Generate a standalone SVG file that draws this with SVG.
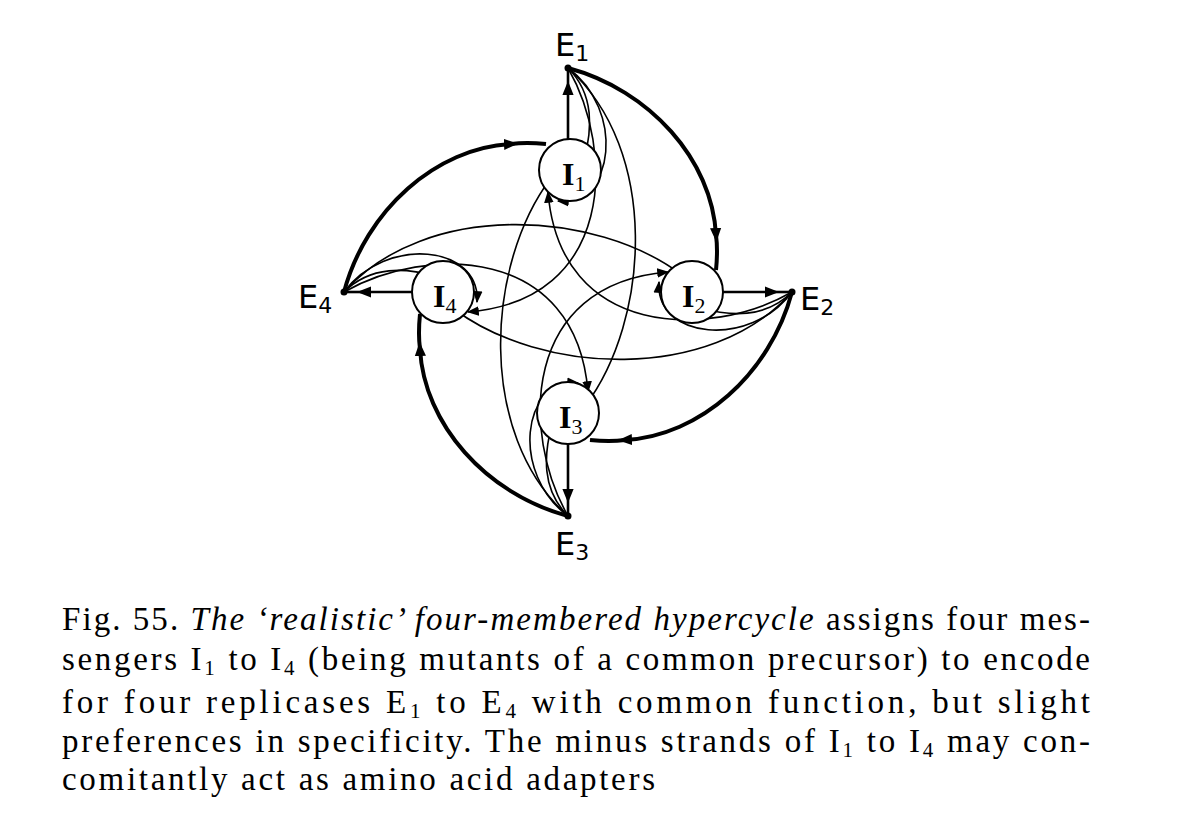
<svg xmlns="http://www.w3.org/2000/svg" width="1189" height="829" viewBox="0 0 1189 829">
<style>
.thin{fill:none;stroke:#000;stroke-width:1.6}
.thick{fill:none;stroke:#000;stroke-width:4}
.med{fill:none;stroke:#000;stroke-width:2.6}
.node{fill:#fff;stroke:#000;stroke-width:2}
.lab{font-family:"DejaVu Sans",sans-serif;font-size:32px}
.ilab{font-family:"Liberation Serif",serif;font-size:32px;font-weight:bold}
.cap{font-family:"Liberation Serif",serif;font-size:33px}
</style>
<defs>
<marker id="a" viewBox="0 0 10 10" refX="9" refY="5" markerWidth="12" markerHeight="12" markerUnits="userSpaceOnUse" orient="auto"><path d="M0,1 L10,5 L0,9 z"/></marker>
<marker id="ab" viewBox="0 0 10 10" refX="5" refY="5" markerWidth="14" markerHeight="14" markerUnits="userSpaceOnUse" orient="auto"><path d="M0,1 L10,5 L0,9 z"/></marker>
<g id="arms">
<path class="thick" d="M568,68 C650,90 712,160 716,235" marker-end="url(#ab)"/>
<path class="thick" d="M716,235 C718,250 717,260 716,270"/>
<path class="med" d="M568,140 L568,88" marker-end="url(#ab)"/>
<path class="med" d="M568,88 L568,68"/>
<path class="thin" d="M568,68 C595,95 592,130 584,160" marker-end="url(#a)"/>
<path class="thin" d="M568,68 C625,110 615,205 558,201" marker-end="url(#a)"/>
<path class="thin" d="M568,68 C660,150 650,320 585,406" marker-end="url(#a)"/>
<path class="thin" d="M568,68 C615,150 615,300 468,312" marker-end="url(#a)"/>
<circle cx="568" cy="68" r="3.5"/>
</g>
</defs>
<g id="connectors">
<use href="#arms"/>
<use href="#arms" transform="rotate(90 568 292)"/>
<use href="#arms" transform="rotate(180 568 292)"/>
<use href="#arms" transform="rotate(270 568 292)"/>
</g>
<g id="I1"><circle class="node" cx="570" cy="170" r="31"/><text class="ilab" x="562" y="185">I<tspan font-size="22" font-weight="normal" dy="6">1</tspan></text></g>
<g id="I2"><circle class="node" cx="692" cy="292" r="31"/><text class="ilab" x="682" y="307">I<tspan font-size="22" font-weight="normal" dy="6">2</tspan></text></g>
<g id="I3"><circle class="node" cx="568" cy="413" r="31"/><text class="ilab" x="559" y="428">I<tspan font-size="22" font-weight="normal" dy="6">3</tspan></text></g>
<g id="I4"><circle class="node" cx="443" cy="292" r="31"/><text class="ilab" x="433" y="307">I<tspan font-size="22" font-weight="normal" dy="6">4</tspan></text></g>
<g id="E1"><text class="lab" x="555" y="56">E<tspan font-size="22" dy="5">1</tspan></text></g>
<g id="E2"><text class="lab" x="800" y="310">E<tspan font-size="22" dy="5">2</tspan></text></g>
<g id="E3"><text class="lab" x="555" y="555">E<tspan font-size="22" dy="5">3</tspan></text></g>
<g id="E4"><text class="lab" x="298" y="308">E<tspan font-size="22" dy="5">4</tspan></text></g>
<g id="caption" class="cap">
<text x="62" y="630" textLength="1028" lengthAdjust="spacing">Fig. 55. <tspan font-style="italic">The ‘realistic’ four-membered hypercycle</tspan> assigns four mes-</text>
<text x="62" y="670" textLength="1028" lengthAdjust="spacing">sengers I<tspan font-size="21" dy="5">1</tspan><tspan dy="-5"> to I</tspan><tspan font-size="21" dy="5">4</tspan><tspan dy="-5"> (being mutants of a common precursor) to encode</tspan></text>
<text x="62" y="713" textLength="1028" lengthAdjust="spacing">for four replicases E<tspan font-size="21" dy="5">1</tspan><tspan dy="-5"> to E</tspan><tspan font-size="21" dy="5">4</tspan><tspan dy="-5"> with common function, but slight</tspan></text>
<text x="62" y="752" textLength="1028" lengthAdjust="spacing">preferences in specificity. The minus strands of I<tspan font-size="21" dy="5">1</tspan><tspan dy="-5"> to I</tspan><tspan font-size="21" dy="5">4</tspan><tspan dy="-5"> may con-</tspan></text>
<text x="62" y="790" textLength="593" lengthAdjust="spacing">comitantly act as amino acid adapters</text>
</g>
</svg>
